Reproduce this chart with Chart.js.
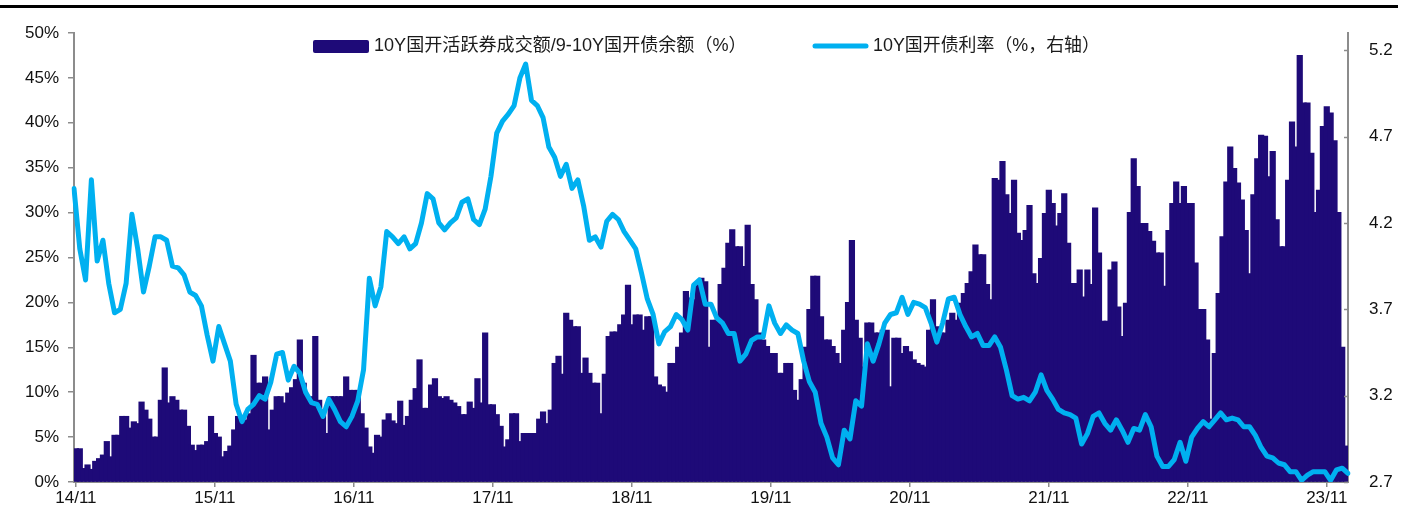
<!DOCTYPE html>
<html><head><meta charset="utf-8">
<script src="https://cdn.jsdelivr.net/npm/chart.js@4.4.0/dist/chart.umd.min.js"></script>
<style>html,body{margin:0;padding:0;background:#fff;}#wrap{width:1410px;height:518px;position:relative}</style>
</head><body><div id="wrap"><canvas id="c" width="1410" height="518"></canvas></div>
<script>
// x-axis tick labels (every November)
const tickLabels = ['14/11','15/11','16/11','17/11','18/11','19/11','20/11','21/11','22/11','23/11'];

// 10Y国开活跃券成交额/9-10Y国开债余额 (%), by ten-day period from Nov 2014
const turnoverRatio = [
3.7,3.7,1.5,1.9,1.4,2.3,2.6,3.0,4.5,2.8,
5.2,5.2,7.3,7.3,6.0,6.7,6.5,8.9,8.0,7.0,
5.0,5.0,9.1,12.7,8.8,9.5,9.1,8.0,8.0,6.2,
4.1,3.5,4.1,4.1,4.5,7.3,5.4,5.0,2.8,3.4,
4.0,5.8,7.3,6.9,6.9,7.6,14.1,11.0,11.0,11.7,
5.8,8.0,9.5,9.5,8.8,9.9,10.5,11.4,15.8,11.0,
9.5,9.5,16.2,9.1,8.0,5.4,9.5,9.5,9.5,9.5,
11.7,10.2,10.2,10.2,7.6,6.0,3.9,3.2,5.2,5.0,
6.9,7.6,6.8,6.5,9.0,6.3,7.3,9.1,10.4,13.6,
8.2,8.2,10.8,11.5,9.5,9.3,9.5,9.1,8.8,8.4,
7.5,7.5,8.9,8.2,11.5,8.8,16.6,8.6,8.6,7.5,
6.2,3.9,4.7,7.6,7.6,4.5,5.4,5.4,5.4,5.4,
7.0,7.8,6.5,8.0,13.2,14.0,12.0,18.8,18.0,17.3,
17.3,12.1,13.8,12.1,11.0,11.0,7.6,12.0,16.2,16.7,
16.7,17.5,18.6,21.9,17.5,18.6,18.6,16.9,18.4,18.4,
11.7,10.8,10.6,10.0,13.2,13.2,15.0,16.6,21.2,20.5,
20.3,22.1,22.7,22.3,15.0,18.0,18.0,22.0,23.8,26.6,
28.1,26.2,26.2,24.0,28.6,22.0,20.3,16.6,15.8,15.1,
14.3,14.3,12.1,12.1,13.2,13.2,10.2,9.1,11.4,15.0,
19.2,22.9,22.9,18.4,15.8,15.8,15.1,14.3,13.2,16.9,
20.0,26.9,18.0,16.0,12.8,17.7,17.7,16.6,16.6,16.9,
16.9,10.6,16.0,16.0,14.3,15.1,14.5,13.6,13.2,13.0,
12.8,16.9,20.3,17.3,16.6,16.6,18.0,18.8,18.0,19.9,
21.0,22.1,23.4,26.4,25.3,25.3,22.0,20.3,33.8,33.6,
35.7,32.0,29.9,33.6,27.7,26.9,28.0,30.8,23.2,22.1,
24.9,29.9,32.5,31.0,28.5,29.9,32.1,26.6,22.1,22.1,
23.6,20.6,23.6,22.0,30.5,25.5,17.9,17.9,23.6,24.5,
19.5,16.2,19.9,30.0,36.0,32.9,28.8,28.8,27.9,26.8,
25.5,25.5,21.8,28.0,31.0,33.4,31.0,32.9,31.0,31.0,
24.4,19.2,19.2,15.8,7.0,14.3,21.0,27.3,33.4,37.3,
34.9,33.3,31.4,28.0,23.2,32.0,36.0,38.6,38.5,34.0,
36.8,29.2,26.2,26.2,33.6,40.1,37.3,47.5,42.2,42.2,
36.6,30.0,32.5,39.6,41.8,41.1,38.0,30.0,15.0,4.0
];

// 10Y国开债利率 (%), semi-monthly from Nov 2014
const yieldRate = [
4.40,4.05,3.87,4.45,3.98,4.10,3.85,3.68,3.70,3.85,4.25,4.05,3.80,3.95,4.12,4.12,4.10,3.95,3.94,3.90,
3.80,3.78,3.72,3.55,3.40,3.60,3.50,3.40,3.15,3.05,3.12,3.15,3.20,3.18,3.28,3.44,3.45,3.29,3.37,3.33,
3.22,3.16,3.15,3.08,3.18,3.12,3.05,3.02,3.08,3.17,3.35,3.88,3.72,3.83,4.15,4.12,4.08,4.12,4.05,4.08,
4.20,4.37,4.34,4.20,4.16,4.20,4.23,4.32,4.34,4.22,4.19,4.28,4.47,4.72,4.79,4.83,4.88,5.04,5.12,4.91,
4.88,4.81,4.64,4.58,4.47,4.54,4.40,4.45,4.30,4.10,4.12,4.06,4.21,4.25,4.22,4.15,4.10,4.05,3.91,3.76,
3.67,3.50,3.57,3.60,3.67,3.64,3.58,3.84,3.87,3.73,3.73,3.65,3.62,3.56,3.56,3.40,3.44,3.52,3.54,3.54,
3.72,3.62,3.56,3.61,3.58,3.56,3.40,3.28,3.22,3.04,2.96,2.84,2.80,3.00,2.95,3.17,3.14,3.50,3.40,3.50,
3.62,3.67,3.68,3.77,3.67,3.74,3.73,3.71,3.62,3.51,3.62,3.76,3.77,3.67,3.60,3.54,3.56,3.49,3.49,3.54,
3.48,3.35,3.20,3.18,3.19,3.17,3.22,3.32,3.23,3.18,3.12,3.10,3.09,3.07,2.92,2.98,3.08,3.10,3.04,3.00,
3.06,3.00,2.93,3.01,3.00,3.09,3.02,2.85,2.79,2.79,2.83,2.93,2.82,2.96,3.01,3.05,3.02,3.06,3.10,3.06,
3.07,3.06,3.02,3.02,2.97,2.90,2.85,2.84,2.81,2.80,2.76,2.76,2.71,2.74,2.76,2.76,2.76,2.71,2.77,2.78,
2.75
];

const leftTicks = [0,5,10,15,20,25,30,35,40,45,50];
const rightTicks = [2.7,3.2,3.7,4.2,4.7,5.2];

// categories: ten-day periods (bars) and half-month periods (line), starting Nov 2014
const dekadCategories = [];
for (let j = 0; j < turnoverRatio.length; j++) {
  const m = 10 + Math.floor(j / 3);
  const yr = 2014 + Math.floor(m / 12);
  const mo = (m % 12) + 1;
  dekadCategories.push(yr + '-' + String(mo).padStart(2, '0') + ['-01', '-11', '-21'][j % 3]);
}
const halfMonthCategories = [];
for (let i = 0; i < yieldRate.length; i++) {
  const m = 10 + Math.floor(i / 2);
  const yr = 2014 + Math.floor(m / 12);
  const mo = (m % 12) + 1;
  halfMonthCategories.push(yr + '-' + String(mo).padStart(2, '0') + (i % 2 ? '-16' : '-01'));
}

const BAR_COLOR = '#1E0A78';
const LINE_COLOR = '#00B0F0';
const AXIS_COLOR = '#8C8C8C';
const FONT = '"Liberation Sans", Arial, "Noto Sans CJK SC", sans-serif';

const decorPlugin = {
  id: 'decor',
  afterDraw(chart) {
    const ctx = chart.ctx;
    ctx.save();
    // top rule
    ctx.fillStyle = '#000';
    ctx.fillRect(0, 5, 1398, 3);
    // right axis inward tick marks
    const y1 = chart.scales.y1;
    ctx.strokeStyle = AXIS_COLOR;
    ctx.lineWidth = 1.5;
    rightTicks.forEach(v => {
      const py = Math.round(y1.getPixelForValue(v)) + 0.5;
      ctx.beginPath(); ctx.moveTo(y1.left - 4, py); ctx.lineTo(y1.left, py); ctx.stroke();
    });
    // legend
    const barDs = chart.data.datasets[1];
    const lineDs = chart.data.datasets[0];
    const cy = 46;
    ctx.fillStyle = barDs.backgroundColor;
    ctx.beginPath();
    if (ctx.roundRect) ctx.roundRect(313, 40, 56, 13, 2); else ctx.rect(313, 40, 56, 13);
    ctx.fill();
    ctx.fillStyle = '#1a1a1a';
    ctx.textBaseline = 'middle';
    ctx.textAlign = 'left';
    const fitText = (txt, x, target) => {
      ctx.font = '18px ' + FONT;
      const w = ctx.measureText(txt).width;
      const size = Math.max(15, Math.min(20, 18 * target / w));
      ctx.font = size.toFixed(2) + 'px ' + FONT;
      ctx.fillText(txt, x, cy);
    };
    fitText(barDs.label, 374, 373);
    ctx.strokeStyle = lineDs.borderColor;
    ctx.lineWidth = 5;
    ctx.lineCap = 'round';
    ctx.beginPath(); ctx.moveTo(815, cy); ctx.lineTo(866, cy); ctx.stroke();
    fitText(lineDs.label, 873, 227);
    ctx.restore();
  }
};

new Chart(document.getElementById('c').getContext('2d'), {
  type: 'bar',
  data: {
    datasets: [
      {
        type: 'line',
        label: '10Y国开债利率（%，右轴）',
        data: yieldRate,
        xAxisID: 'x2',
        yAxisID: 'y1',
        borderColor: LINE_COLOR,
        backgroundColor: LINE_COLOR,
        borderWidth: 5,
        pointRadius: 0,
        tension: 0,
        borderJoinStyle: 'round',
        borderCapStyle: 'round',
        order: 0
      },
      {
        type: 'bar',
        label: '10Y国开活跃券成交额/9-10Y国开债余额（%）',
        data: turnoverRatio,
        xAxisID: 'x',
        yAxisID: 'y',
        backgroundColor: BAR_COLOR,
        borderWidth: 0,
        barPercentage: 1.35,
        categoryPercentage: 1,
        grouped: false,
        inflateAmount: 0.5,
        order: 1
      }
    ]
  },
  options: {
    responsive: false,
    animation: false,
    devicePixelRatio: 1,
    layout: { padding: { top: 33, left: 0, right: 0, bottom: 0 } },
    plugins: { legend: { display: false }, tooltip: { enabled: false } },
    scales: {
      x: {
        type: 'category',
        labels: dekadCategories,
        position: 'bottom',
        offset: true,
        grid: { display: true, drawOnChartArea: false, tickLength: 5, color: AXIS_COLOR, lineWidth: 1.5, offset: false },
        border: { color: AXIS_COLOR, width: 2 },
        ticks: {
          autoSkip: false, maxRotation: 0, minRotation: 0, padding: 1,
          color: '#111', font: { family: FONT, size: 17 },
          callback: (v) => tickLabels[v / 36]
        },
        afterBuildTicks: (s) => { s.ticks = s.ticks.filter(t => t.value % 36 === 0); },
        afterFit: (s) => { s.height = 36; }
      },
      x2: {
        type: 'category',
        labels: halfMonthCategories,
        position: 'bottom',
        offset: false,
        display: false
      },
      y: {
        position: 'left',
        min: 0, max: 50,
        grid: { display: true, drawOnChartArea: false, tickLength: 6, color: AXIS_COLOR, lineWidth: 1.5 },
        border: { color: AXIS_COLOR, width: 2 },
        ticks: {
          padding: 9, color: '#111', font: { family: FONT, size: 17 },
          callback: (v) => v + '%'
        },
        afterBuildTicks: (s) => { s.ticks = leftTicks.map(v => ({ value: v })); },
        afterFit: (s) => { s.width = 74; }
      },
      y1: {
        position: 'right',
        min: 2.7, max: 5.3,
        grid: { display: false, drawOnChartArea: false },
        border: { color: AXIS_COLOR, width: 2 },
        ticks: {
          padding: 13, color: '#111', font: { family: FONT, size: 17 },
          callback: (v) => v.toFixed(1)
        },
        afterBuildTicks: (s) => { s.ticks = rightTicks.map(v => ({ value: v })); },
        afterFit: (s) => { s.width = 62; }
      }
    }
  },
  plugins: [decorPlugin]
});
</script>
</body></html>
